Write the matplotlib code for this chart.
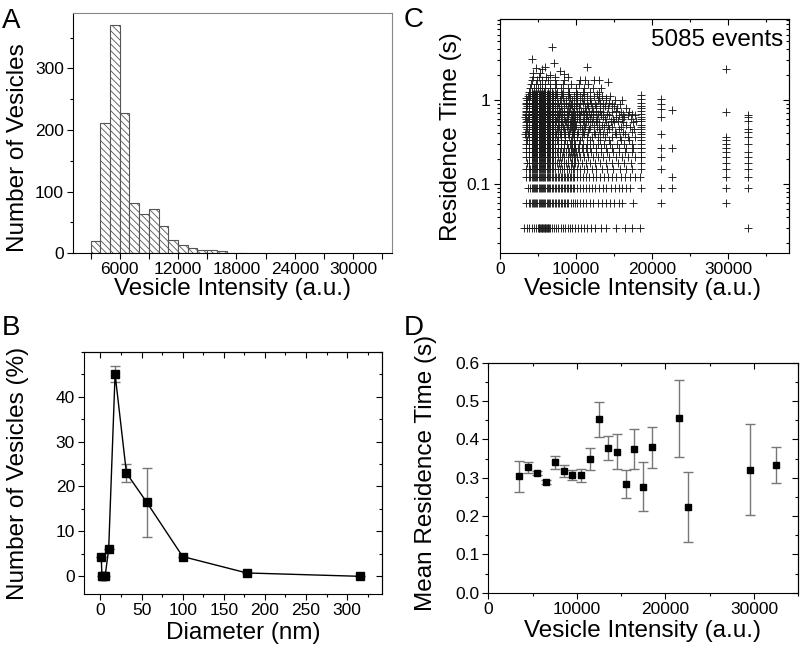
import matplotlib
matplotlib.use('Agg')
import matplotlib.pyplot as plt
import numpy as np
from matplotlib.ticker import MultipleLocator, FixedLocator, LogLocator, NullFormatter

plt.rcParams['font.family'] = ['Liberation Sans', 'DejaVu Sans']
plt.rcParams['hatch.linewidth'] = 0.6

# ---- A: intensity histogram (bin left edges, 1000 a.u. wide) ----
hist_left = [3000, 4000, 5000, 6000, 7000, 8000, 9000, 10000, 11000, 12000,
             13000, 14000, 15000, 16000, 17000, 18000]
hist_counts = [20, 212, 370, 228, 82, 63, 72, 45, 22, 14, 9, 6, 6, 3, 1, 1]

# ---- B: size distribution ----
diam = [1.0, 1.78, 3.16, 5.62, 10, 17.8, 31.6, 56.2, 100, 178, 316]
pct = [4.4, 0, 0, 0, 6.0, 45, 23, 16.5, 4.4, 0.75, 0]
pct_err = [0, 0, 0, 0, 0, 1.8, 1.9, 7.7, 0, 0, 0]

# ---- C: residence time vs intensity (intensities in 1000 a.u.) ----
int_003 = [3.2, 3.6, 3.9, 4.2, 4.5, 4.8, 5.0, 5.1, 5.2, 5.3, 5.4, 5.5, 5.6, 5.7,
           5.8, 5.9, 6.0, 6.1, 6.2, 6.3, 6.4, 6.5, 6.6, 6.9, 7.1, 7.4, 7.7, 8.0,
           8.3, 8.6, 8.9, 9.2, 9.5, 9.9, 10.3, 10.7, 11.1, 11.5, 12.0, 12.5,
           13.3, 14.0, 15.3, 16.5, 17.3, 18.4]
# saturated block seen at every level from 0.06 s to ~1.2 s
core_int = [4.2, 4.35, 4.5, 4.65, 4.8, 4.95, 5.1, 5.25, 5.4, 5.55, 5.7, 5.85,
            6.0, 6.15, 6.3, 6.45, 6.6, 6.8, 7.0]
core_levels = [0.06, 0.09, 0.12, 0.15, 0.18, 0.21, 0.24, 0.27, 0.30, 0.33, 0.36,
               0.39, 0.42, 0.45, 0.48, 0.51, 0.54, 0.57, 0.60, 0.63, 0.66, 0.69,
               0.72, 0.75, 0.81, 0.84, 0.90, 0.93, 0.99, 1.05, 1.11, 1.17]
int_006 = [3.5, 3.8, 4.0, 7.2, 7.4, 7.6, 7.8, 8.0, 8.2, 8.4, 8.6, 8.8, 9.0, 9.3,
           9.6, 9.9, 10.2, 10.5, 10.9, 11.3, 11.8, 12.3, 12.9, 13.4, 13.9, 14.5,
           15.0, 15.6, 16.1, 17.5]
int_009 = [3.7, 4.0, 7.2, 7.4, 7.6, 7.8, 8.0, 8.2, 8.4, 8.6, 8.8, 9.0, 9.2, 9.4,
           9.6, 9.8, 10.1, 10.5, 10.9, 11.3, 11.7, 12.1, 12.5, 13.0, 13.5, 14.0,
           14.6, 15.1, 15.6, 16.1, 16.6, 17.1, 18.5]
int_012 = [3.5, 3.8, 4.0, 7.2, 7.4, 7.6, 7.8, 8.0, 8.2, 8.4, 8.6, 8.8, 9.0, 9.2,
           9.4, 9.6, 9.8, 10.1, 10.5, 10.9, 11.3, 11.7, 12.2, 12.7, 13.2, 13.7,
           14.2, 14.7, 15.3, 15.9, 16.5, 17.1, 17.7, 18.4]
int_015 = [3.5, 3.8, 4.0, 7.3, 7.6, 7.9, 8.2, 8.5, 8.8, 9.1, 9.4, 9.6, 9.8, 10.1,
           10.5, 11.0, 11.5, 12.1, 12.7, 13.4, 14.1, 14.9, 15.8, 16.6, 17.4, 18.5]
int_018 = [3.6, 3.9, 7.2, 7.5, 7.8, 8.1, 8.4, 8.7, 9.0, 9.3, 9.5, 9.7, 9.9, 10.3,
           10.8, 11.3, 11.9, 12.5, 13.2, 13.9, 14.7, 15.5, 16.3, 17.2, 18.5]
int_021 = [3.5, 3.9, 7.3, 7.6, 7.9, 8.2, 8.5, 8.9, 9.2, 9.5, 9.7, 9.9, 10.2, 10.6,
           11.1, 11.6, 12.2, 12.9, 13.6, 14.4, 15.2, 16.0, 16.9, 17.7, 18.6]
int_024 = [3.4, 3.8, 7.2, 7.5, 7.9, 8.3, 8.7, 9.1, 9.4, 9.6, 9.8, 10.0, 10.4,
           10.9, 11.4, 12.0, 12.7, 13.3, 14.1, 14.9, 15.7, 16.5, 17.4, 18.5]
int_027 = [3.5, 3.9, 7.3, 7.7, 8.1, 8.5, 8.9, 9.3, 9.5, 9.7, 9.9, 10.3, 10.8,
           11.3, 11.9, 12.6, 13.3, 14.0, 14.8, 15.7, 16.6, 17.5, 18.6]
int_030 = [3.4, 3.8, 7.2, 7.6, 8.0, 8.4, 8.8, 9.2, 9.5, 9.7, 9.9, 10.4, 10.9,
           11.5, 12.2, 12.9, 13.7, 14.5, 15.4, 16.3, 17.3, 18.5]
int_033 = [3.6, 7.5, 8.0, 8.6, 9.4, 9.7, 10.6, 11.8, 13.1, 14.3, 15.9, 17.0]
int_036 = [3.5, 3.9, 7.3, 7.7, 8.1, 8.6, 9.1, 9.5, 9.8, 10.2, 10.8, 11.4, 12.1,
           12.9, 13.8, 14.8, 15.8, 16.8, 17.7, 18.6]
int_039 = [3.3, 3.7, 7.4, 7.9, 8.4, 9.0, 9.6, 10.1, 11.1, 12.5, 13.5, 15.3, 16.4]
int_042 = [3.4, 3.8, 7.2, 7.6, 8.1, 8.6, 9.1, 9.5, 9.8, 10.3, 10.9, 11.6, 12.4,
           13.2, 14.1, 15.1, 16.2, 17.3, 18.5]
int_045 = [3.6, 7.5, 8.0, 8.5, 9.2, 9.7, 10.8, 11.7, 13.0, 14.4, 15.6, 17.6]
int_048 = [3.5, 3.9, 7.3, 7.8, 8.3, 8.8, 9.3, 9.6, 9.9, 10.5, 11.2, 11.9, 12.8,
           13.7, 14.8, 15.9, 17.1, 18.6]
int_051 = [3.4, 3.8, 7.6, 8.1, 8.9, 9.5, 10.0, 11.0, 12.4, 13.4, 14.2, 16.6]
int_054 = [3.4, 3.8, 7.2, 7.7, 8.2, 8.7, 9.2, 9.6, 9.9, 10.6, 11.3, 12.1, 13.0,
           13.9, 15.0, 16.2, 17.5]
int_057 = [3.6, 7.4, 8.0, 8.6, 9.3, 9.8, 10.9, 11.6, 12.6, 14.6, 15.5, 17.9]
int_060 = [3.5, 3.9, 7.3, 7.8, 8.4, 9.0, 9.5, 9.8, 10.4, 11.1, 11.9, 12.8, 13.8,
           14.9, 16.0, 17.2, 18.6]
int_063 = [3.3, 3.7, 7.5, 8.1, 8.8, 9.6, 10.1, 11.3, 12.2, 13.6, 15.2, 16.3]
int_066 = [3.4, 3.8, 7.2, 7.8, 8.4, 9.0, 9.5, 9.9, 10.6, 11.4, 12.3, 13.3, 14.4,
           15.6, 16.8, 17.8]
int_069 = [3.5, 7.6, 8.2, 8.9, 9.4, 10.4, 11.0, 12.0, 12.9, 14.1, 16.2, 17.4]
int_072 = [3.5, 3.9, 7.3, 7.9, 8.5, 9.1, 9.6, 10.2, 10.9, 11.7, 12.6, 13.6, 14.7,
           15.9, 17.0]
int_075 = [3.4, 3.8, 7.5, 8.2, 8.8, 9.7, 10.7, 11.3, 12.3, 13.2, 15.2]
int_081 = [3.4, 3.8, 7.2, 7.8, 8.5, 9.2, 9.7, 10.4, 11.2, 12.1, 13.1, 14.2, 15.4,
           16.6, 18.6]
int_084 = [3.6, 7.5, 8.1, 8.9, 9.5, 10.0, 11.6, 12.6, 13.8, 15.0]
int_090 = [3.5, 3.9, 7.3, 8.0, 8.7, 9.4, 9.8, 10.6, 11.5, 12.5, 13.6, 14.7, 15.8]
int_093 = [3.4, 3.8, 7.6, 8.4, 9.1, 10.1, 10.9, 12.0, 13.2, 14.4]
int_099 = [3.6, 3.9, 7.2, 7.9, 8.7, 9.5, 10.2, 11.0, 11.9, 12.9, 14.0, 15.1, 16.1]
int_105 = [3.5, 3.9, 7.5, 8.3, 9.2, 10.0, 10.8, 11.8, 13.0, 13.9]
int_111 = [3.7, 4.0, 7.3, 8.1, 8.9, 9.7, 10.5, 11.4, 12.4, 13.4, 14.5]
int_117 = [3.8, 7.4, 8.2, 9.1, 10.2, 11.1, 12.8]
int_123 = [3.9, 4.3, 4.8, 5.3, 5.8, 6.3, 6.8, 7.5, 8.3, 9.1, 10.0, 10.9, 11.9, 13.0]
int_138 = [4.0, 4.5, 5.0, 5.5, 6.0, 6.6, 7.3, 8.1, 9.0, 10.0, 11.1, 12.2, 13.3]
int_153 = [4.1, 4.7, 5.3, 5.9, 6.6, 7.4, 8.3, 9.3, 10.4, 11.6]
int_171 = [4.2, 4.9, 5.6, 6.4, 7.3, 8.4, 10.6, 11.2, 12.4, 13.0]
int_189 = [4.4, 5.2, 6.1, 7.2, 9.0]
row_levels = [0.03, 0.06, 0.09, 0.12, 0.15, 0.18, 0.21, 0.24, 0.27, 0.30, 0.33,
              0.36, 0.39, 0.42, 0.45, 0.48, 0.51, 0.54, 0.57, 0.60, 0.63, 0.66,
              0.69, 0.72, 0.75, 0.81, 0.84, 0.90, 0.93, 0.99, 1.05, 1.11, 1.17,
              1.23, 1.38, 1.53, 1.71, 1.89]
row_ints = [int_003, int_006, int_009, int_012, int_015, int_018, int_021, int_024,
            int_027, int_030, int_033, int_036, int_039, int_042, int_045, int_048,
            int_051, int_054, int_057, int_060, int_063, int_066, int_069, int_072,
            int_075, int_081, int_084, int_090, int_093, int_099, int_105, int_111,
            int_117, int_123, int_138, int_153, int_171, int_189]
top_int = [6.9, 4.3, 7.1, 4.8, 5.6, 6.0, 7.9, 11.5, 4.4, 5.3, 6.6, 8.5, 14.2]
top_res = [4.24, 3.05, 2.78, 2.38, 2.36, 2.45, 2.23, 2.45, 2.1, 2.07, 2.01, 2.04, 1.62]
col_int = [18.6, 21.1, 22.6, 29.7, 32.6]
col_186 = [1.14, 1.02, 0.93, 0.84, 0.75, 0.69, 0.63, 0.57, 0.51, 0.45, 0.39, 0.33, 0.27, 0.21]
col_211 = [1.02, 0.90, 0.78, 0.63, 0.39, 0.27, 0.21, 0.15, 0.09, 0.06]
col_226 = [0.76, 0.27, 0.12, 0.09]
col_297 = [2.31, 0.72, 0.36, 0.33, 0.30, 0.27, 0.24, 0.21, 0.18, 0.15, 0.12, 0.09, 0.06]
col_326 = [0.66, 0.63, 0.57, 0.45, 0.42, 0.36, 0.30, 0.24, 0.21, 0.18, 0.15, 0.12, 0.09, 0.03]
col_res = [col_186, col_211, col_226, col_297, col_326]

# ---- D: mean residence time per intensity bin ----
d_int = [3500, 4500, 5500, 6500, 7500, 8500, 9500, 10500, 11500, 12500, 13500,
         14500, 15500, 16500, 17500, 18500, 21500, 22500, 29500, 32500]
d_mean = [0.304, 0.327, 0.312, 0.289, 0.340, 0.318, 0.307, 0.306, 0.349, 0.452,
          0.378, 0.368, 0.283, 0.375, 0.277, 0.379, 0.455, 0.223, 0.321, 0.333]
d_err = [0.040, 0.014, 0.006, 0.005, 0.016, 0.015, 0.013, 0.018, 0.028, 0.045,
         0.031, 0.046, 0.037, 0.052, 0.063, 0.054, 0.101, 0.091, 0.118, 0.046]

W, H = 800, 652
fig = plt.figure(figsize=(W / 100, H / 100), dpi=100)


def px_axes(l, t, r, b):
    return fig.add_axes([l / W, 1 - b / H, (r - l) / W, (b - t) / H])


def ftext(x, y, s, **kw):
    fig.text(x / W, 1 - y / H, s, **kw)


LAB = 17.5
TCK = 12.5


def style(ax):
    ax.tick_params(which='both', direction='out', labelsize=TCK, width=0.8,
                   top=False, right=False, pad=2.5)
    ax.tick_params(which='major', length=4)
    ax.tick_params(which='minor', length=2.5)
    for s in ax.spines.values():
        s.set_linewidth(0.8)


def mirror(ax, xmaj, xmin, ymaj, ymin):
    top = ax.secondary_xaxis('top')
    top.xaxis.set_major_locator(xmaj)
    top.xaxis.set_minor_locator(xmin)
    top.tick_params(which='both', direction='in', labeltop=False, width=0.8)
    top.tick_params(which='major', length=4)
    top.tick_params(which='minor', length=2.5)
    right = ax.secondary_yaxis('right')
    right.yaxis.set_major_locator(ymaj)
    right.yaxis.set_minor_locator(ymin)
    right.yaxis.set_minor_formatter(NullFormatter())
    right.tick_params(which='both', direction='in', labelright=False, width=0.8)
    right.tick_params(which='major', length=4)
    right.tick_params(which='minor', length=2.5)


# ---------------- A ----------------
axA = px_axes(73, 13, 392, 253.3)
axA.bar(hist_left, hist_counts, width=1000, align='edge', color='white',
        edgecolor='#555555', hatch='\\' * 5, linewidth=0.8)
axA.set_xlim(1200, 34000)
axA.set_ylim(0, 390)
axA.xaxis.set_major_locator(FixedLocator([6000, 12000, 18000, 24000, 30000]))
axA.xaxis.set_minor_locator(MultipleLocator(3000))
axA.yaxis.set_major_locator(MultipleLocator(100))
axA.yaxis.set_minor_locator(MultipleLocator(50))
style(axA)
axA.tick_params(axis='x', which='minor', length=4)
axA.spines['top'].set_color('#888888')
axA.spines['right'].set_color('#888888')
ftext(2, 28, 'A', fontsize=20, va='baseline')
ftext(18.5, 148, 'Number of Vesicles', fontsize=LAB, rotation=90, ha='center', va='center')
ftext(233, 289, 'Vesicle Intensity (a.u.)', fontsize=LAB, ha='center', va='center')

# ---------------- B ----------------
axB = px_axes(84, 351.7, 381.7, 594.3)
axB.errorbar(diam, pct, yerr=pct_err, fmt='none', ecolor='#777777', elinewidth=1.0,
             capsize=3.5, capthick=1.0, zorder=2)
axB.plot(diam, pct, '-', color='black', lw=1.0, zorder=3)
axB.plot(diam, pct, 's', color='black', ms=5.3, zorder=4)
axB.set_xlim(-20, 342)
axB.set_ylim(-4, 50)
axB.xaxis.set_major_locator(MultipleLocator(50))
axB.xaxis.set_minor_locator(MultipleLocator(25))
axB.yaxis.set_major_locator(FixedLocator([0, 10, 20, 30, 40]))
axB.yaxis.set_minor_locator(MultipleLocator(5))
style(axB)
mirror(axB, MultipleLocator(50), MultipleLocator(25), FixedLocator([0, 10, 20, 30, 40]),
       MultipleLocator(5))
ftext(2, 335, 'B', fontsize=20, va='baseline')
ftext(18, 473, 'Number of Vesicles (%)', fontsize=LAB, rotation=90, ha='center', va='center')
ftext(243, 633, 'Diameter (nm)', fontsize=LAB, ha='center', va='center')

# ---------------- C ----------------
axC = px_axes(499.7, 19, 789.3, 253.3)
sc_kw = dict(marker='+', s=38, color='#1a1a1a', linewidths=0.65)
for t, xs in zip(row_levels, row_ints):
    axC.scatter(np.array(xs) * 1000, [t] * len(xs), **sc_kw)
for t in core_levels:
    axC.scatter(np.array(core_int) * 1000, [t] * len(core_int), **sc_kw)
for x, ts in zip(col_int, col_res):
    axC.scatter([x * 1000] * len(ts), ts, **sc_kw)
axC.scatter(np.array(top_int) * 1000, top_res, **sc_kw)
axC.set_yscale('log')
axC.set_xlim(0, 38000)
axC.set_ylim(0.015, 9.2)
axC.xaxis.set_major_locator(MultipleLocator(10000))
axC.xaxis.set_minor_locator(MultipleLocator(5000))
axC.set_yticks([0.1, 1], labels=['0.1', '1'])
axC.yaxis.set_minor_locator(LogLocator(base=10, subs=np.arange(2, 10)))
axC.yaxis.set_minor_formatter(NullFormatter())
style(axC)
mirror(axC, MultipleLocator(10000), MultipleLocator(5000), FixedLocator([0.1, 1]),
       LogLocator(base=10, subs=np.arange(2, 10)))
axC.text(0.978, 0.91, '5085 events', transform=axC.transAxes, fontsize=LAB,
         ha='right', va='center')
ftext(404, 27, 'C', fontsize=20, va='baseline')
ftext(451.5, 137, 'Residence Time (s)', fontsize=LAB, rotation=90, ha='center', va='center')
ftext(643, 289, 'Vesicle Intensity (a.u.)', fontsize=LAB, ha='center', va='center')

# ---------------- D ----------------
axD = px_axes(488.3, 362.7, 798.3, 592.7)
axD.errorbar(d_int, d_mean, yerr=d_err, fmt='none', ecolor='#777777', elinewidth=1.0,
             capsize=3.5, capthick=1.0, zorder=2)
axD.plot(d_int, d_mean, 's', color='black', ms=4.2, zorder=3)
axD.set_xlim(0, 35000)
axD.set_ylim(0, 0.6)
axD.xaxis.set_major_locator(MultipleLocator(10000))
axD.xaxis.set_minor_locator(MultipleLocator(5000))
axD.yaxis.set_major_locator(MultipleLocator(0.1))
axD.yaxis.set_minor_locator(MultipleLocator(0.05))
axD.yaxis.set_major_formatter(lambda v, p: f'{v:.1f}')
style(axD)
mirror(axD, MultipleLocator(10000), MultipleLocator(5000), MultipleLocator(0.1),
       MultipleLocator(0.05))
ftext(404, 335, 'D', fontsize=20, va='baseline')
ftext(426.5, 473, 'Mean Residence Time (s)', fontsize=LAB, rotation=90, ha='center', va='center')
ftext(643, 631, 'Vesicle Intensity (a.u.)', fontsize=LAB, ha='center', va='center')

fig.savefig('out.png', dpi=100)
